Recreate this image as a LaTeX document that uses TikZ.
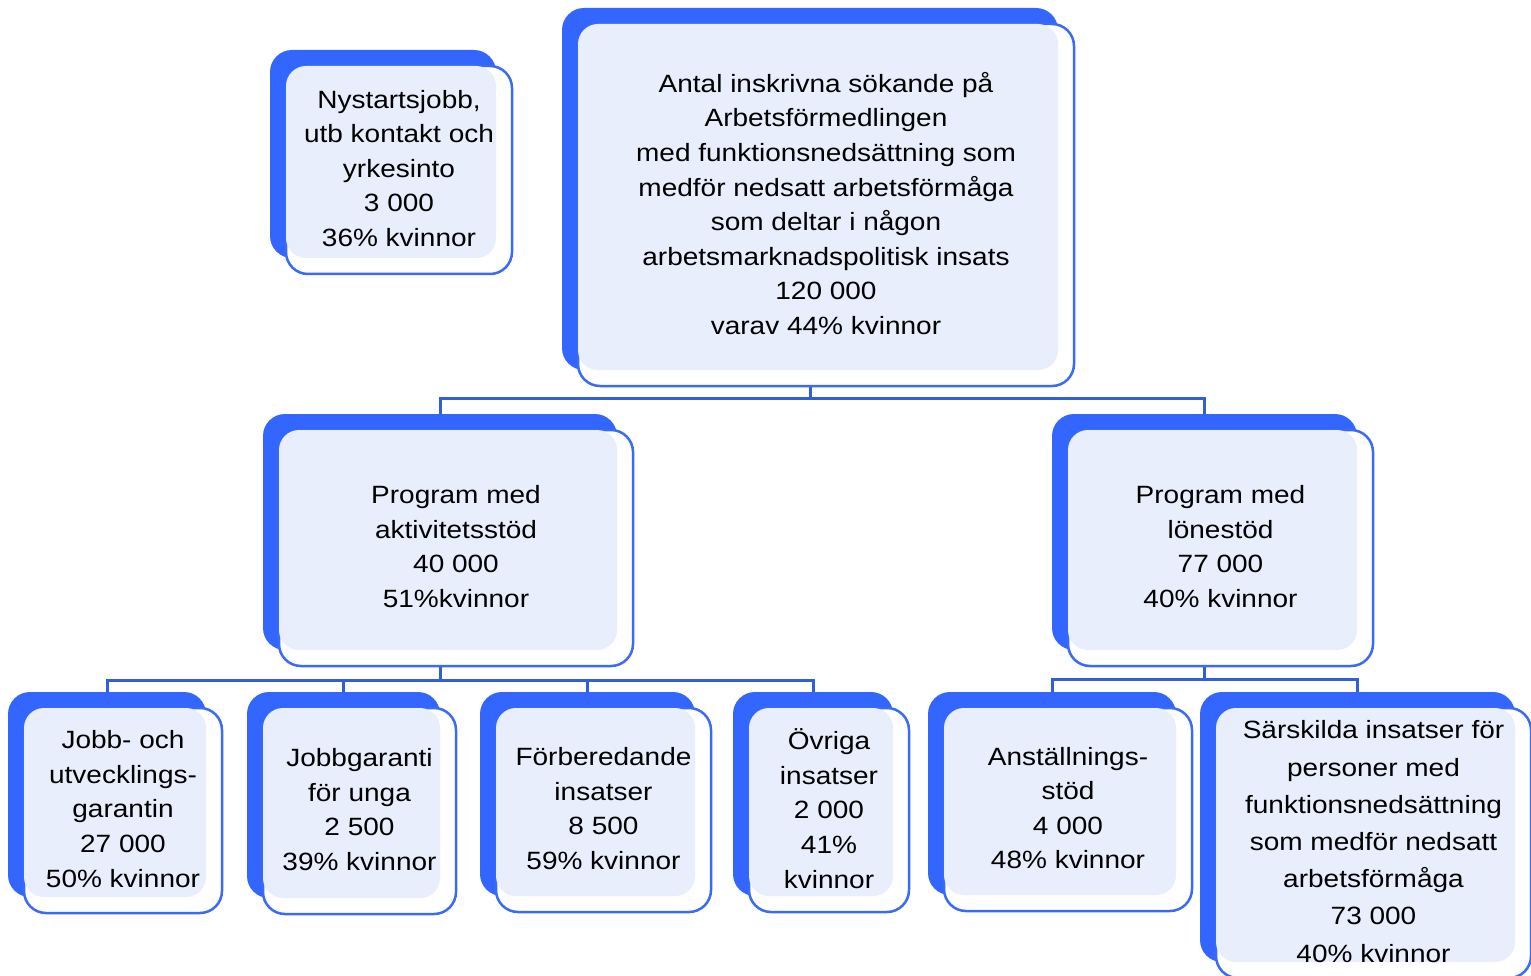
\documentclass[tikz,border=0pt]{standalone}
\usepackage{fontspec}
\setmainfont{Liberation Sans}[FakeStretch=1.12]
\usetikzlibrary{backgrounds}
\definecolor{backblue}{HTML}{3366FF}
\definecolor{outblue}{HTML}{3A6BF5}
\definecolor{lightfill}{HTML}{E9EEFC}
\definecolor{connblue}{HTML}{2F5FD9}
\tikzset{
  backbox/.style={rectangle, fill=backblue, rounded corners=22pt, inner sep=0pt, outer sep=0pt},
  outbox/.style={rectangle, draw=outblue, line width=2.5pt, fill=white, rounded corners=22pt, inner sep=0pt, outer sep=0pt},
  lightbox/.style={rectangle, fill=lightfill, rounded corners=20pt, inner sep=0pt, outer sep=0pt},
  txt/.style={align=center, inner sep=0pt, text=black},
  conn/.style={draw=connblue, line width=3pt}
}
\newcommand\orgbox[7]{%
  \node[backbox, minimum width={#4-#2}, minimum height={#5-#3}] (#1) at ({(#2+#4)/2},{(#3+#5)/2}) {};
  \node[outbox, minimum width={#4-#2}, minimum height={#5-#3}] (#1-o) at ({(#2+#4)/2+16},{(#3+#5)/2+16}) {};
  \node[lightbox, minimum width={#4-#2-16}, minimum height={#5-#3-16}] (#1-f) at ({(#2+#4)/2+8},{(#3+#5)/2+8}) {};
  \node[txt, font=\fontsize{25}{#6}\selectfont, yshift=1.5pt] (#1-t) at (#1-o) {#7};
}
\begin{document}
\begin{tikzpicture}[x=1pt,y=-1pt]
\useasboundingbox (0,0) rectangle (1531,976);
\clip (0,0) rectangle (1531,976);
\orgbox{nys}{270}{50}{496}{258}{34.5}{Nystartsjobb,\\utb kontakt och\\yrkesinto\\3 000\\36\% kvinnor}
\orgbox{top}{562}{8}{1058}{370}{34.6}{Antal inskrivna sökande på\\Arbetsförmedlingen\\med funktionsnedsättning som\\medför nedsatt arbetsförmåga\\som deltar i någon\\arbetsmarknadspolitisk insats\\120 000\\varav 44\% kvinnor}
\orgbox{akt}{263}{414}{617}{650}{34.6}{Program med\\aktivitetsstöd\\40 000\\51\%kvinnor}
\orgbox{lon}{1052}{414}{1357}{650}{34.6}{Program med\\lönestöd\\77 000\\40\% kvinnor}
\orgbox{jobb}{8}{692}{206}{897}{34.6}{Jobb- och\\utvecklings-\\garantin\\27 000\\50\% kvinnor}
\orgbox{jg}{247}{692}{440}{898}{34.6}{Jobbgaranti\\för unga\\2 500\\39\% kvinnor}
\orgbox{forb}{480}{692}{695}{896}{34.6}{Förberedande\\insatser\\8 500\\59\% kvinnor}
\orgbox{ovr}{733}{692}{893}{896}{34.6}{Övriga\\insatser\\2 000\\41\%\\kvinnor}
\orgbox{anst}{928}{692}{1176}{895}{34.6}{Anställnings-\\stöd\\4 000\\48\% kvinnor}
\orgbox{sar}{1200}{692}{1515}{962}{37.2}{Särskilda insatser för\\personer med\\funktionsnedsättning\\som medför nedsatt\\arbetsförmåga\\73 000\\40\% kvinnor}
\begin{pgfonlayer}{background}
  \coordinate (bus0) at (0,398);
  \coordinate (bus1) at (0,680);
  \coordinate (bus2) at (0,679);
  \draw[conn] (top.south) -- (top.south |- bus0) -| (akt.north);
  \draw[conn] (top.south |- bus0) -| (lon.north);
  \draw[conn] (akt.south) -- (akt.south |- bus1) -| (jobb.north);
  \draw[conn] (akt.south |- bus1) -| (jg.north);
  \draw[conn] (akt.south |- bus1) -| (forb.north);
  \draw[conn] (akt.south |- bus1) -| (ovr.north);
  \draw[conn] (lon.south) -- (lon.south |- bus2) -| (anst.north);
  \draw[conn] (lon.south |- bus2) -| (sar.north);
\end{pgfonlayer}
\end{tikzpicture}
\end{document}
